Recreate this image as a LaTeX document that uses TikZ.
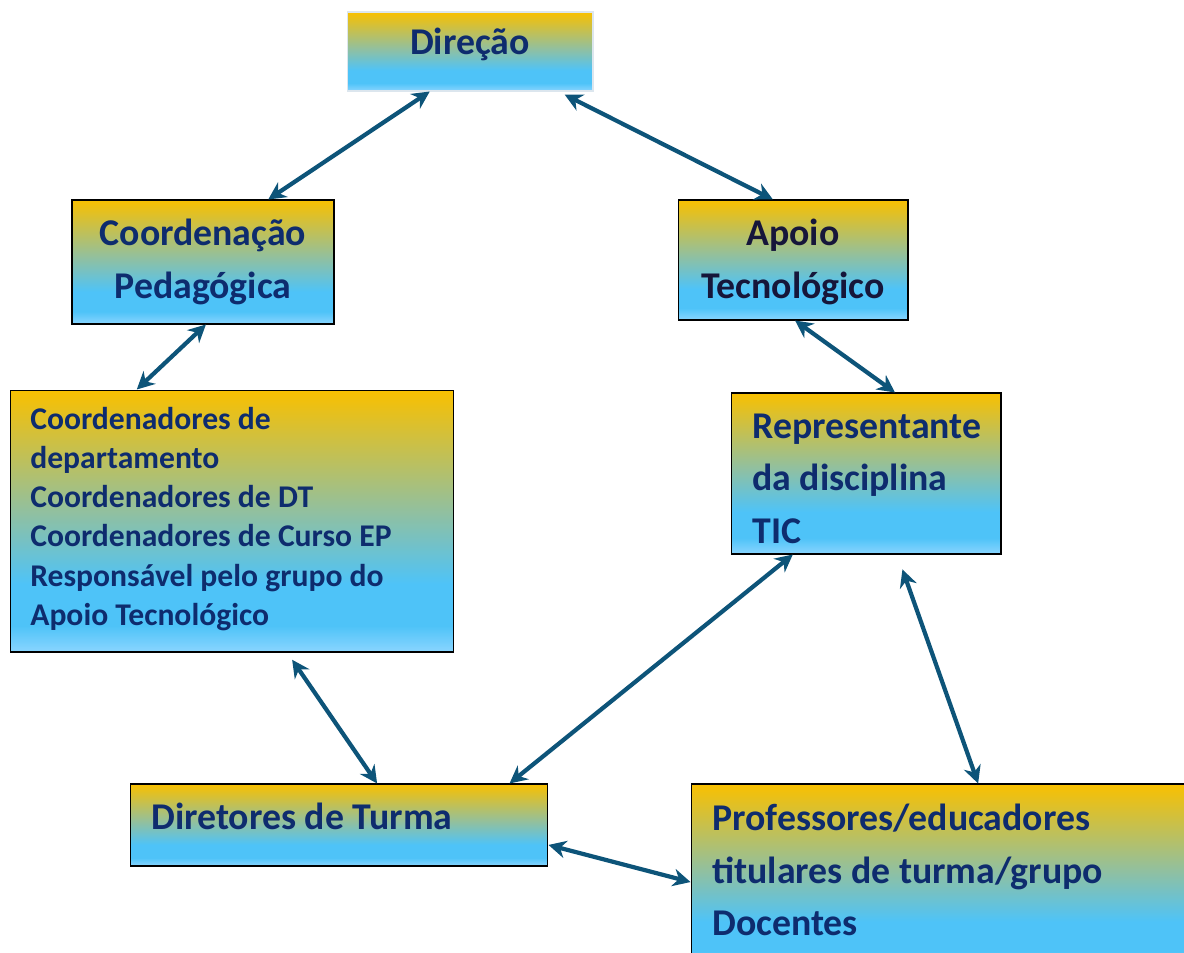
\documentclass[tikz,border=0pt]{standalone}
\usepackage{fontspec}
\setmainfont{Carlito}
\usetikzlibrary{arrows.meta,calc}

\definecolor{ouro}{HTML}{F9C000}
\definecolor{verdeclaro}{HTML}{92C09E}
\definecolor{azulceu}{HTML}{4EC3F8}
\definecolor{azulclaro}{HTML}{8AD5FF}
\definecolor{azultexto}{HTML}{0E2C6E}
\definecolor{quasepreto}{HTML}{16163A}
\definecolor{corseta}{HTML}{0D5479}
\definecolor{bordaclara}{HTML}{DCE6EE}

% degradê das caixas (de baixo para cima)
\pgfdeclareverticalshading{fundocaixa}{100bp}{color(0bp)=(azulclaro); color(25bp)=(azulclaro);
  color(30bp)=(azulceu); color(38bp)=(azulceu); color(52bp)=(verdeclaro);
  color(75bp)=(ouro); color(100bp)=(ouro)}

\tikzset{
  caixa/.style={draw=black, line width=0.6pt, shading=fundocaixa, inner sep=0pt},
  titulo/.style={font=\bfseries\fontsize{21.5pt}{29.6pt}\selectfont, text=azultexto, inner sep=0pt},
  lista/.style={font=\bfseries\fontsize{18pt}{22.2pt}\selectfont, text=azultexto, inner sep=0pt, align=left},
  seta/.style={draw=corseta, line width=2.4pt, {Stealth[length=10pt,width=10pt]}-{Stealth[length=10pt,width=10pt]}}
}

\begin{document}
\begin{tikzpicture}[x=0.02cm, y=-0.02cm]
  \useasboundingbox (0,0) rectangle (1184,953);
  \clip (0,0) rectangle (1184,953);

  % Caixas
  \node[caixa, draw=bordaclara, minimum width=4.92cm, minimum height=1.58cm] (direcao) at (470,51.5) {};
  \node[caixa, minimum width=5.24cm, minimum height=2.48cm] (coordped) at (203,262) {};
  \node[caixa, minimum width=4.6cm, minimum height=2.4cm] (apoio) at (793,260) {};
  \node[caixa, minimum width=8.88cm, minimum height=5.24cm] (coordenadores) at (232,521) {};
  \node[caixa, minimum width=5.4cm, minimum height=3.22cm] (representante) at (866,473.5) {};
  \node[caixa, minimum width=8.36cm, minimum height=1.64cm] (diretores) at (339,825) {};
  \node[caixa, minimum width=10.18cm, minimum height=3.72cm] (professores) at (945.5,877) {};

  % Textos (a âncora base fica na última linha)
  \node[titulo, anchor=base] (tdirecao) at (470,55) {Direção};
  \node[titulo, anchor=base, align=center] (tcoordped) at (203,298) {Coordenação\\Pedagógica};
  \node[titulo, anchor=base, align=center, text=quasepreto] (tapoio) at (793,298) {Apoio\\Tecnológico};
  \node[lista, anchor=base west] (tcoordenadores) at (30,625) {Coordenadores de\\departamento\\Coordenadores de DT\\Coordenadores de Curso EP\\Responsável pelo grupo do\\Apoio Tecnológico};
  \node[titulo, anchor=base west, align=left] (trepresentante) at (752,543) {Representante\\da disciplina\\TIC};
  \node[titulo, anchor=base west] (tdiretores) at (151,829) {Diretores de Turma};
  \node[titulo, anchor=base west, align=left] (tprofessores) at (712,935) {Professores/educadores\\titulares de turma/grupo\\Docentes};

  % Setas
  \draw[seta] ($(direcao.south west)!0.337!(direcao.south east)$) -- ($(coordped.north west)!0.748!(coordped.north east)$);
  \draw[seta, shorten <=4pt] ($(direcao.south west)!0.858!(direcao.south east)$) -- ($(apoio.north west)!0.413!(apoio.north east)$);
  \draw[seta] ($(coordped.south west)!0.511!(coordped.south east)$) -- ($(coordenadores.north west)!0.286!(coordenadores.north east)$);
  \draw[seta] ($(apoio.south west)!0.509!(apoio.south east)$) -- ($(representante.north west)!0.607!(representante.north east)$);
  \draw[seta, shorten <=5pt] ($(coordenadores.south west)!0.624!(coordenadores.south east)$) -- ($(diretores.north west)!0.591!(diretores.north east)$);
  \draw[seta] ($(representante.south west)!0.23!(representante.south east)$) -- ($(diretores.north west)!0.907!(diretores.north east)$);
  \draw[seta, shorten <=9pt] ($(representante.south west)!0.615!(representante.south east)$) -- ($(professores.north west)!0.564!(professores.north east)$);
  \draw[seta] ($(diretores.north east)!0.74!(diretores.south east)$) -- ($(professores.north west)!0.527!(professores.south west)$);
\end{tikzpicture}
\end{document}
